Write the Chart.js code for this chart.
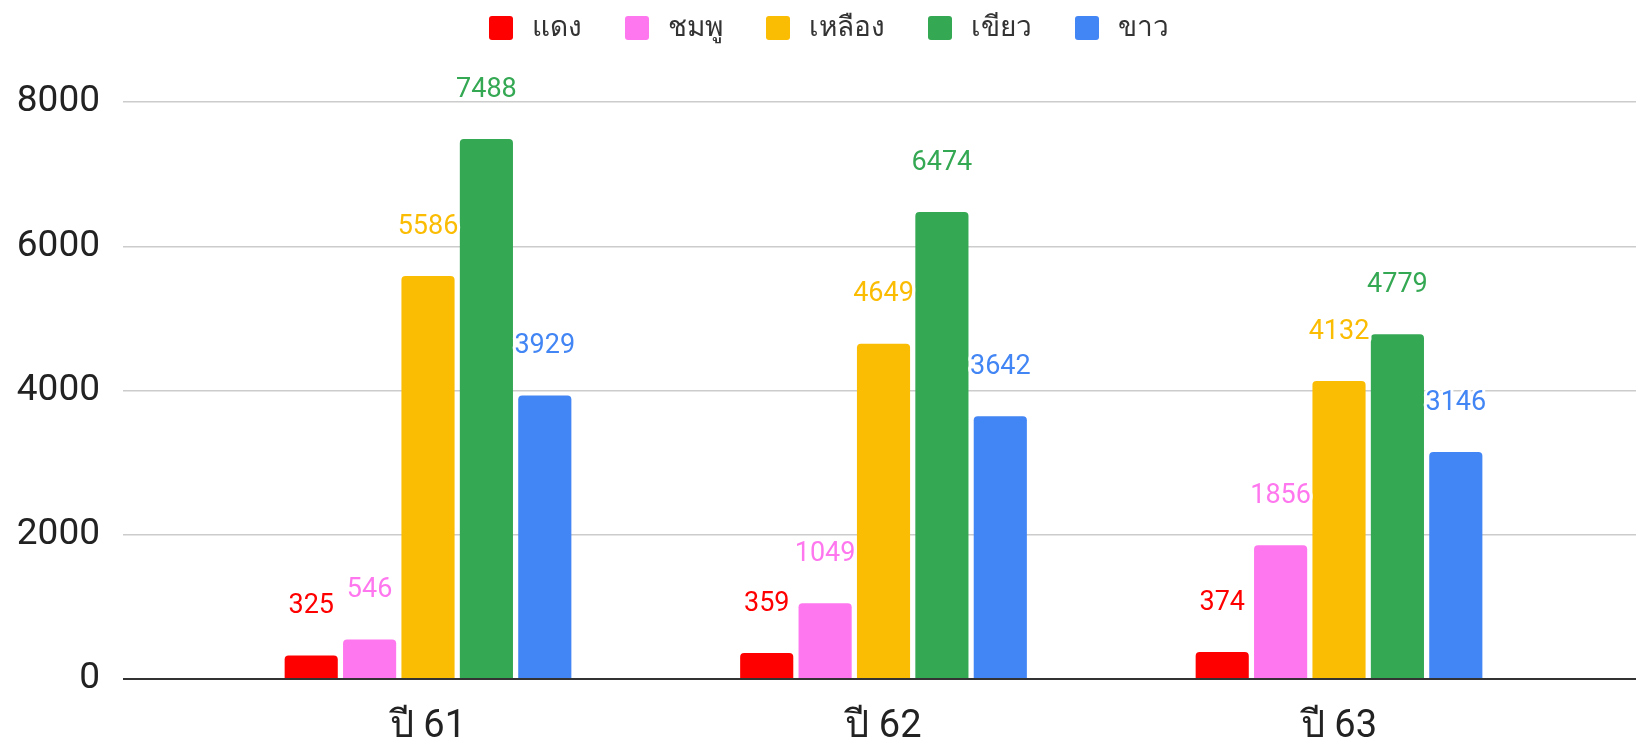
<!DOCTYPE html>
<html>
<head>
<meta charset="utf-8">
<script src="https://cdn.jsdelivr.net/npm/chart.js@4.4.1/dist/chart.umd.min.js"></script>
<style>
  html, body { margin: 0; padding: 0; background: #ffffff; }
  #wrap { width: 1636px; height: 740px; position: relative; }
</style>
</head>
<body>
<div id="wrap"><canvas id="c"></canvas></div>
<script>
// ---- data ----
const categories = ['ปี 61', 'ปี 62', 'ปี 63'];
const seriesNames = ['แดง', 'ชมพู', 'เหลือง', 'เขียว', 'ขาว'];
const red    = [325, 359, 374];
const pink   = [546, 1049, 1856];
const yellow = [5586, 4649, 4132];
const green  = [7488, 6474, 4779];
const blue   = [3929, 3642, 3146];
const yTicks = [0, 2000, 4000, 6000, 8000];

const seriesValues = [red, pink, yellow, green, blue];
const colors = ['#ff0000', '#ff77ee', '#fbbc04', '#34a853', '#4285f4'];
const FONT = "Roboto, 'Noto Sans', 'DejaVu Sans', sans-serif";

const datasets = seriesNames.map((name, s) => ({
  label: name,
  data: seriesValues[s].map((v, i) => ({ x: i, y: v })),
  backgroundColor: colors[s],
  borderRadius: 4,
  borderSkipped: 'start',
  categoryPercentage: 0.641,
  barPercentage: 0.91
}));

const valueLabels = {
  id: 'valueLabels',
  afterDatasetsDraw(chart) {
    const ctx = chart.ctx;
    ctx.save();
    ctx.font = '27px ' + FONT;
    ctx.textAlign = 'center';
    ctx.textBaseline = 'middle';
    ctx.lineJoin = 'round';
    chart.data.datasets.forEach((ds, di) => {
      const meta = chart.getDatasetMeta(di);
      meta.data.forEach((el, i) => {
        const txt = String(ds.data[i].y);
        const y = el.y - 49;
        ctx.lineWidth = 6;
        ctx.strokeStyle = '#ffffff';
        ctx.strokeText(txt, el.x, y);
        ctx.fillStyle = ds.backgroundColor;
        ctx.fillText(txt, el.x, y);
      });
    });
    ctx.restore();
  }
};

const customLegend = {
  id: 'customLegend',
  afterDraw(chart) {
    const ctx = chart.ctx;
    ctx.save();
    ctx.font = '28px ' + FONT;
    ctx.textBaseline = 'middle';
    ctx.textAlign = 'left';
    const box = 24, gapText = 19, gapItem = 43, cy = 28;
    const items = chart.data.datasets.map(ds => ({
      text: ds.label, color: ds.backgroundColor, w: ctx.measureText(ds.label).width
    }));
    let total = 0;
    items.forEach((it, i) => { total += box + gapText + it.w + (i < items.length - 1 ? gapItem : 0); });
    let x = 829 - total / 2;
    items.forEach(it => {
      ctx.fillStyle = it.color;
      ctx.beginPath();
      ctx.roundRect(x, cy - box / 2, box, box, 3);
      ctx.fill();
      ctx.fillStyle = '#333333';
      ctx.fillText(it.text, x + box + gapText, cy + 1);
      x += box + gapText + it.w + gapItem;
    });
    ctx.restore();
  }
};

new Chart(document.getElementById('c'), {
  type: 'bar',
  data: { datasets },
  options: {
    responsive: true,
    maintainAspectRatio: false,
    animation: false,
    layout: { padding: { top: 102, left: 15, right: 0, bottom: 0 } },
    plugins: {
      legend: { display: false },
      tooltip: { enabled: false }
    },
    scales: {
      x: {
        type: 'linear',
        offset: false,
        min: -0.6696,
        max: 2.652,
        grid: { display: false, offset: false },
        border: { display: false },
        afterFit: (scale) => {
          scale.height = 61;
          scale.paddingLeft = 0;
          scale.paddingRight = 0;
        },
        ticks: {
          stepSize: 1,
          includeBounds: false,
          autoSkip: false,
          maxRotation: 0,
          padding: 22,
          color: '#222222',
          font: { family: FONT, size: 38, lineHeight: 0.95 },
          callback: (v) => (Number.isInteger(v) && categories[v] !== undefined) ? categories[v] : ''
        }
      },
      y: {
        min: yTicks[0],
        max: yTicks[yTicks.length - 1],
        afterBuildTicks: (scale) => { scale.ticks = yTicks.map(v => ({ value: v })); },
        afterFit: (scale) => {
          scale.width = 108;
          scale.paddingBottom = 0;
        },
        grid: {
          drawTicks: false,
          color: (c) => c.tick && c.tick.value === 0 ? '#333333' : '#cccccc',
          lineWidth: (c) => c.tick && c.tick.value === 0 ? 2 : 1.5
        },
        border: { display: false },
        ticks: {
          padding: 23,
          color: '#222222',
          font: { family: FONT, size: 37 },
          callback: (v) => String(v)
        }
      }
    }
  },
  plugins: [valueLabels, customLegend]
});
</script>
</body>
</html>
